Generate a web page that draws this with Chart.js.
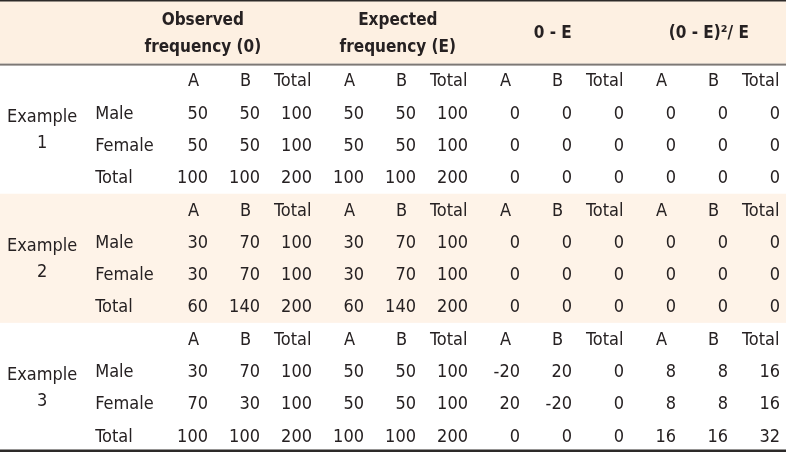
<!DOCTYPE html>
<html>
<head>
<meta charset="utf-8">
<script src="https://cdn.jsdelivr.net/npm/chart.js@4/dist/chart.umd.min.js"></script>
<style>
html,body{margin:0;padding:0;background:#fff;}
#wrap{width:786px;height:452px;}
</style>
</head>
<body>
<div id="wrap"><canvas id="c" width="786" height="452"></canvas></div>
<script>
// ---- data ----
const examples = ['1', '2', '3'];
const rowLabels = ['Male', 'Female', 'Total'];
const subColumns = ['A', 'B', 'Total'];
const groupHeaders = [['Observed', 'frequency (0)'], ['Expected', 'frequency (E)'], ['0 - E'], ['(0 - E)²/ E']];
const observed = [
  [[50, 50, 100], [50, 50, 100], [100, 100, 200]],
  [[30, 70, 100], [30, 70, 100], [60, 140, 200]],
  [[30, 70, 100], [70, 30, 100], [100, 100, 200]]
];
const expected = [
  [[50, 50, 100], [50, 50, 100], [100, 100, 200]],
  [[30, 70, 100], [30, 70, 100], [60, 140, 200]],
  [[50, 50, 100], [50, 50, 100], [100, 100, 200]]
];
const difference = [
  [[0, 0, 0], [0, 0, 0], [0, 0, 0]],
  [[0, 0, 0], [0, 0, 0], [0, 0, 0]],
  [[-20, 20, 0], [20, -20, 0], [0, 0, 0]]
];
const chiSquare = [
  [[0, 0, 0], [0, 0, 0], [0, 0, 0]],
  [[0, 0, 0], [0, 0, 0], [0, 0, 0]],
  [[8, 8, 16], [8, 8, 16], [16, 16, 32]]
];

// ---- build points (grid cells on column/row index scales) ----
const groups = [observed, expected, difference, chiSquare];
const cells = [];
examples.forEach((ex, e) => {
  const base = e * 4;
  groups.forEach((g, gi) => {
    subColumns.forEach((s, si) => {
      cells.push({x: gi * 3 + si, y: base, text: s, kind: 'sub'});
      rowLabels.forEach((r, ri) => {
        cells.push({x: gi * 3 + si, y: base + 1 + ri, text: String(g[e][ri][si]), kind: 'val'});
      });
    });
  });
  rowLabels.forEach((r, ri) => {
    cells.push({x: -2.17, y: base + 1 + ri, text: r, kind: 'row'});
  });
  cells.push({x: -3.19, y: base + 1.5, text: ex, kind: 'example'});
});
const headerX = [-0.1, 3.65, 6.63, 9.63];
groupHeaders.forEach((h, hi) => {
  if (h.length === 2) {
    cells.push({x: headerX[hi], y: -1.9, text: h[0], kind: 'head'});
    cells.push({x: headerX[hi], y: -1.05, text: h[1], kind: 'head'});
  } else {
    cells.push({x: headerX[hi], y: -1.49, text: h[0], kind: 'head'});
  }
});

const TEXT = '#262122';
const REG = '18px "DejaVu Sans Condensed", "DejaVu Sans"';
const BOLD = 'bold 17px "DejaVu Sans Condensed", "DejaVu Sans"';
const DY = 1;

const tablePlugin = {
  id: 'tablePlugin',
  beforeDatasetsDraw(chart) {
    const {ctx, chartArea: a, scales: {y}} = chart;
    ctx.save();
    const hTop = y.getPixelForValue(-2.5), hBot = y.getPixelForValue(-0.53);
    ctx.fillStyle = '#fdf0e2';
    ctx.fillRect(a.left, hTop, a.right - a.left, hBot - hTop);
    const b1 = y.getPixelForValue(3.5), b2 = y.getPixelForValue(7.5);
    ctx.fillStyle = '#fef3e8';
    ctx.fillRect(a.left, b1, a.right - a.left, b2 - b1);
    ctx.fillStyle = '#2d2a29';
    ctx.fillRect(a.left, hTop, a.right - a.left, 1.5);
    ctx.fillStyle = '#7d7875';
    ctx.fillRect(a.left, hBot, a.right - a.left, 2);
    const bot = y.getPixelForValue(11.5);
    ctx.fillStyle = '#2d2a29';
    ctx.fillRect(a.left, bot - 2.5, a.right - a.left, 2.5);
    ctx.restore();
  },
  afterDatasetsDraw(chart) {
    const {ctx} = chart;
    const meta = chart.getDatasetMeta(0);
    ctx.save();
    ctx.fillStyle = TEXT;
    ctx.textBaseline = 'middle';
    meta.data.forEach((el, i) => {
      const c = cells[i];
      const px = el.x, py = el.y + DY;
      if (c.kind === 'val') {
        ctx.font = REG; ctx.textAlign = 'right';
        ctx.fillText(c.text, px, py);
      } else if (c.kind === 'sub') {
        ctx.font = REG; ctx.textAlign = 'left';
        ctx.fillText(c.text, px - (c.text === 'Total' ? 38 : 20), py);
      } else if (c.kind === 'row') {
        ctx.font = REG; ctx.textAlign = 'left';
        ctx.fillText(c.text, px, py);
      } else if (c.kind === 'example') {
        ctx.font = REG; ctx.textAlign = 'center';
        ctx.fillText('Example', px, py - 13);
        ctx.fillText(c.text, px, py + 13);
      } else if (c.kind === 'head') {
        ctx.font = BOLD; ctx.textAlign = 'center';
        ctx.fillText(c.text, px, py);
      }
    });
    ctx.restore();
  }
};

new Chart(document.getElementById('c'), {
  type: 'scatter',
  data: {
    datasets: [{
      data: cells.map(c => ({x: c.x, y: c.y})),
      pointRadius: 0,
      pointHoverRadius: 0,
      showLine: false
    }]
  },
  options: {
    responsive: false,
    animation: false,
    events: [],
    layout: {padding: 0},
    plugins: {legend: {display: false}, tooltip: {enabled: false}},
    scales: {
      x: {type: 'linear', display: false, min: -4, max: 11.115},
      y: {type: 'linear', display: false, reverse: true, min: -2.5, max: 11.5}
    }
  },
  plugins: [tablePlugin]
});
</script>
</body>
</html>
